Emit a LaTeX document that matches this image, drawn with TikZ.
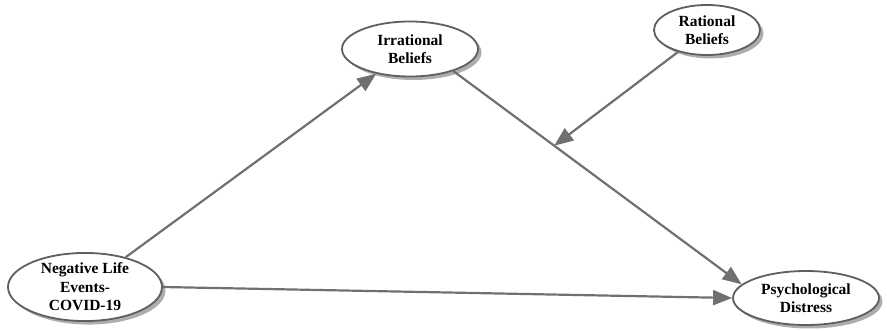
\documentclass[tikz,border=0pt]{standalone}
\usepackage{fontspec}
\setmainfont{Liberation Serif}
\usetikzlibrary{shapes.geometric,arrows.meta,shadows}
\definecolor{linegray}{RGB}{112,112,112}
\definecolor{bordergray}{RGB}{95,95,95}
\begin{document}
\begin{tikzpicture}[x=1pt,y=-1pt,
  construct/.style={ellipse, draw=bordergray, line width=1.8pt, fill=white, inner sep=0pt,
    align=center, font=\bfseries\fontsize{15.5}{18.5}\selectfont,
    drop shadow={shadow xshift=3.5pt, shadow yshift=-3.5pt, fill=gray!75, opacity=0.85}},
  path/.style={draw=linegray, line width=2.2pt,
    -{Triangle[length=19pt,width=15pt]}, color=linegray}
]
\useasboundingbox (0,0) rectangle (887,331);
\node[construct, minimum width=154pt, minimum height=68pt] (neg) at (85,287) {Negative Life\\Events-\\COVID-19};
\node[construct, minimum width=136pt, minimum height=55pt] (irr) at (410,49) {Irrational\\Beliefs};
\node[construct, minimum width=106pt, minimum height=50pt] (rat) at (707,30) {Rational\\Beliefs};
\node[construct, minimum width=146pt, minimum height=54pt] (psy) at (806,298) {Psychological\\Distress};

\draw[path] (neg) -- (irr);
\draw[path] (irr.-27) -- coordinate[pos=0.35] (m) (psy.168);
\draw[path] (rat) -- (m);
\draw[path] (neg.east) -- (psy.west);
\end{tikzpicture}
\end{document}
